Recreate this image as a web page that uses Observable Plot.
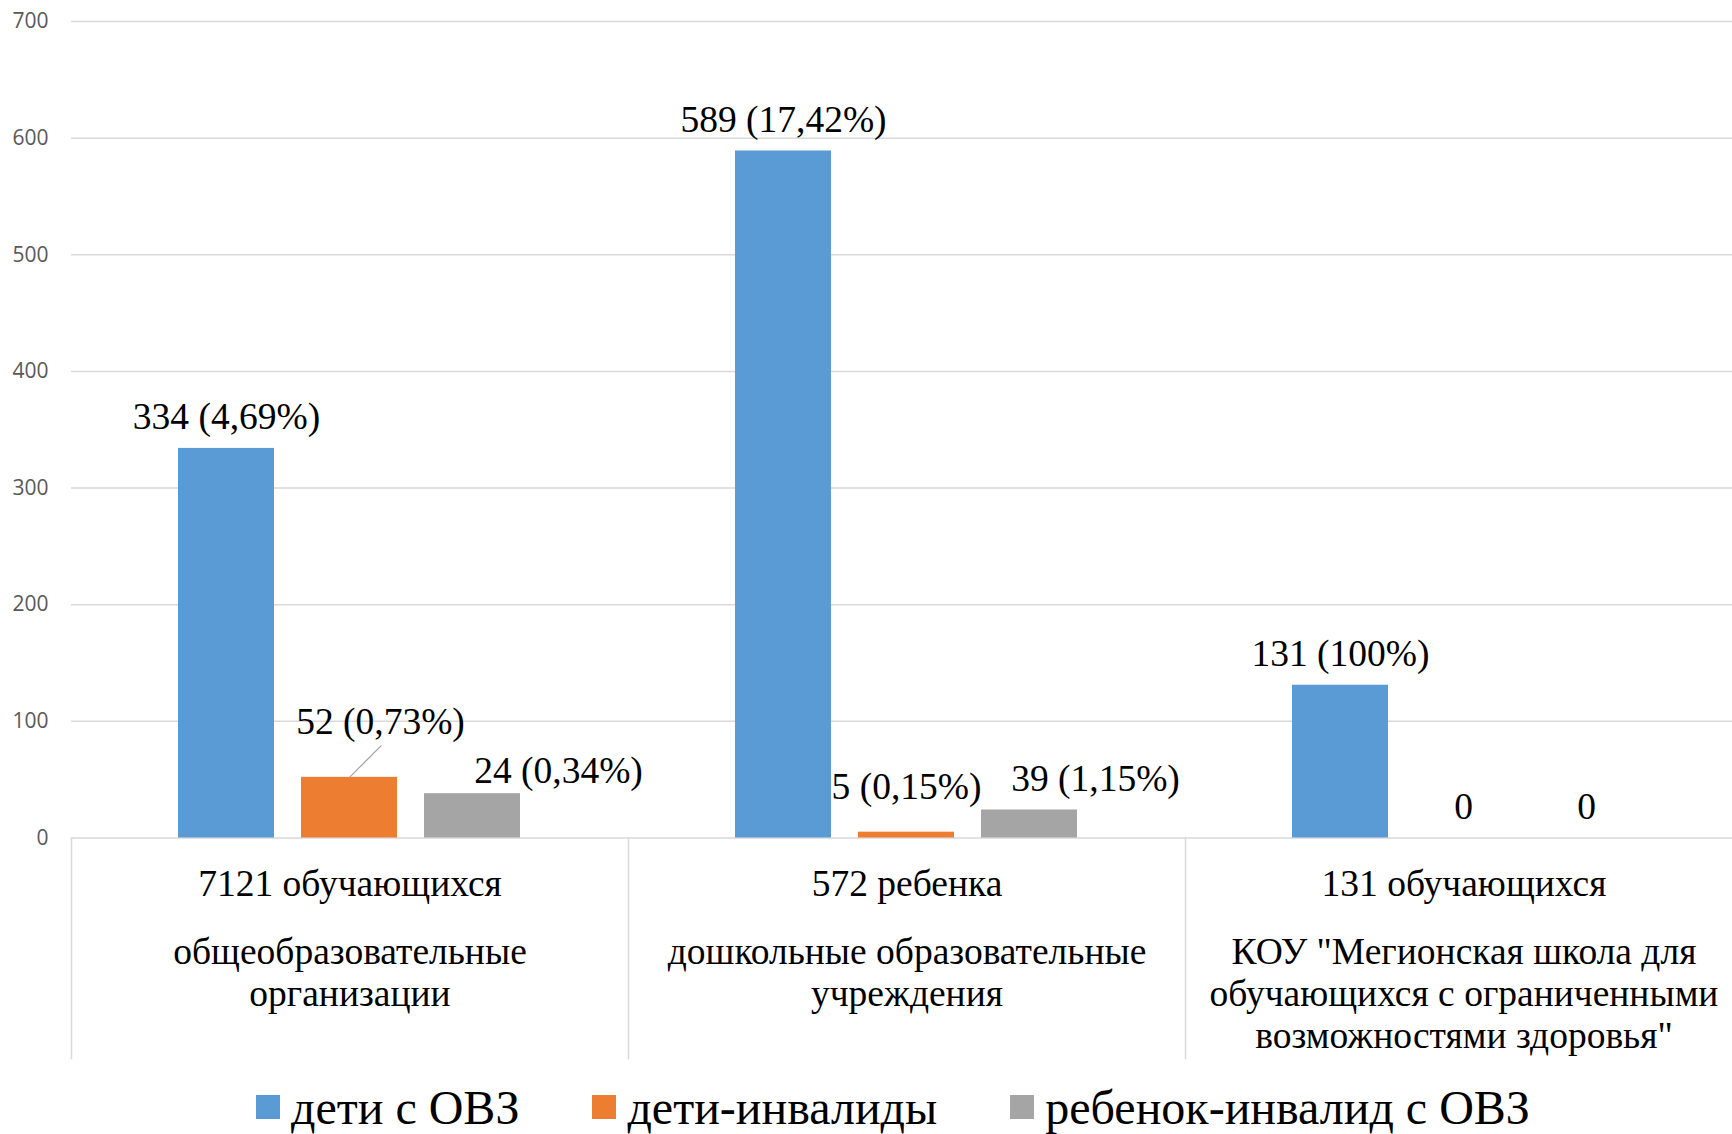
<!DOCTYPE html>
<html>
<head>
<meta charset="utf-8">
<script src="https://cdn.jsdelivr.net/npm/d3@7"></script>
<script src="https://cdn.jsdelivr.net/npm/@observablehq/plot@0.6"></script>
<style>
  html, body { margin: 0; padding: 0; background: #fff; overflow: hidden; }
  #chart svg { display: block; max-width: none !important; }
  .legend { display: flex; align-items: center; height: 54px; padding-top: 18px; padding-left: 256px;
            font-family: "Liberation Serif", "Times New Roman", serif; font-size: 48px; color: #000;
            white-space: nowrap; }
  .legend .item { display: flex; align-items: center; margin-right: 73px; }
  .legend .sw { width: 24px; height: 24px; margin-right: 11px; }
</style>
</head>
<body>
<div id="chart"></div>
<div class="legend" id="legend"></div>
<script>
// ---- data ----
const groups = ["7121 обучающихся", "572 ребенка", "131 обучающихся"];
const groupNames = [
  "общеобразовательные\nорганизации",
  "дошкольные образовательные\nучреждения",
  "КОУ \"Мегионская школа для\nобучающихся с ограниченными\nвозможностями здоровья\""
];
const series = ["дети с ОВЗ", "дети-инвалиды", "ребенок-инвалид с ОВЗ"];
const colors = ["#5b9bd5", "#ed7d31", "#a5a5a5"];
const valuesOVZ = [334, 589, 131];
const valuesInv = [52, 5, 0];
const valuesInvOVZ = [38, 24, 0];
const labelsOVZ = ["334 (4,69%)", "589 (17,42%)", "131 (100%)"];
const labelsInv = ["52 (0,73%)", "5 (0,15%)", "0"];
const labelsInvOVZ = ["24 (0,34%)", "39 (1,15%)", "0"];
const yTicks = [0, 100, 200, 300, 400, 500, 600, 700];

// ---- table ----
const seriesValues = [valuesOVZ, valuesInv, valuesInvOVZ];
const seriesLabels = [labelsOVZ, labelsInv, labelsInvOVZ];
const rows = [];
groups.forEach((g, gi) => series.forEach((s, si) => rows.push({
  g: gi, s: si, group: g, series: s, value: seriesValues[si][gi], label: seriesLabels[si][gi]
})));
const cats = groups.map((g, i) => ({group: g, name: groupNames[i]}));

const isAt = (gi, si) => d => d.g === gi && d.s === si;
const special = [[0,1],[0,2],[1,1],[1,2]];
const isSpecial = d => special.some(([gi, si]) => d.g === gi && d.s === si);

const serif = "Liberation Serif, Times New Roman, serif";
const labelFont = 37.5;

const chart = Plot.plot({
  width: 1742,
  height: 1062,
  marginLeft: 71,
  marginRight: 0,
  marginTop: 21,
  marginBottom: 224.5,
  style: {background: "#fff", overflow: "visible", maxWidth: "none"},
  fx: {domain: groups, padding: 0, axis: null},
  x: {domain: series, paddingInner: 0.218, paddingOuter: 0.855, axis: null},
  y: {domain: [0, 700], axis: null},
  color: {domain: series, range: colors},
  marks: [
    Plot.gridY(yTicks, {stroke: "#d9d9d9", strokeOpacity: 1, strokeWidth: 1.5}),
    Plot.axisY(yTicks, {tickSize: 0, tickPadding: 23, fontSize: 21, fill: "#595959",
      fontFamily: "Open Sans, sans-serif", label: null}),
    Plot.frame({anchor: "left", stroke: "#d9d9d9", strokeWidth: 1.5, insetTop: 816.5, insetBottom: -220.5}),
    Plot.barY(rows, {fx: "group", x: "series", y: "value", fill: "series"}),
    // data labels
    Plot.text(rows, {filter: d => !isSpecial(d), fx: "group", x: "series", y: "value", text: "label",
      dy: -31, fontSize: labelFont, fontFamily: serif, fill: "#000"}),
    Plot.text(rows, {filter: isAt(0,1), fx: "group", x: "series", y: "value", text: "label",
      dx: 31, dy: -55, fontSize: labelFont, fontFamily: serif, fill: "#000"}),
    Plot.text(rows, {filter: isAt(0,2), fx: "group", x: "series", y: "value", text: "label",
      dx: 86, dy: -23, fontSize: labelFont, fontFamily: serif, fill: "#000"}),
    Plot.text(rows, {filter: isAt(1,1), fx: "group", x: "series", y: "value", text: "label",
      dx: 0, dy: -45, fontSize: labelFont, fontFamily: serif, fill: "#000"}),
    Plot.text(rows, {filter: isAt(1,2), fx: "group", x: "series", y: "value", text: "label",
      dx: 66, dy: -31, fontSize: labelFont, fontFamily: serif, fill: "#000"}),
    // leader line for the displaced label
    Plot.vector(rows, {filter: isAt(0,1), fx: "group", x: "series", y: "value",
      length: 44.5, rotate: 45, anchor: "start", r: 0, stroke: "#a6a6a6", strokeWidth: 1.3}),
    // category labels
    Plot.text(cats, {fx: "group", text: "group", frameAnchor: "bottom", dy: 58,
      fontSize: labelFont, fontFamily: serif, fill: "#000"}),
    Plot.text(cats, {fx: "group", text: "name", frameAnchor: "bottom", lineAnchor: "top", dy: 96,
      lineHeight: 1.12, fontSize: labelFont, fontFamily: serif, fill: "#000"})
  ]
});
document.getElementById("chart").append(chart);

const legend = document.getElementById("legend");
series.forEach((s, i) => {
  const item = document.createElement("div");
  item.className = "item";
  const sw = document.createElement("div");
  sw.className = "sw";
  sw.style.background = colors[i];
  const t = document.createElement("span");
  t.textContent = s;
  item.append(sw, t);
  legend.append(item);
});
</script>
</body>
</html>
